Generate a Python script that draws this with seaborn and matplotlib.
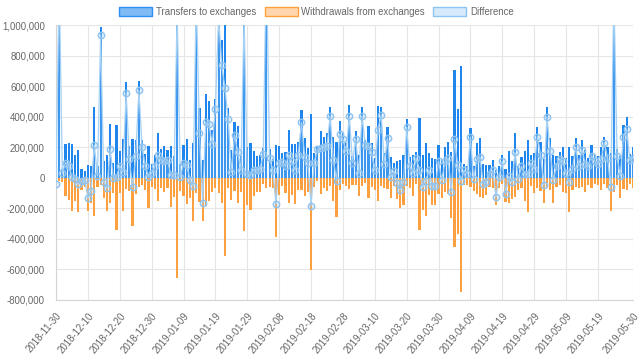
import numpy as np
import pandas as pd
import seaborn as sns
import matplotlib.pyplot as plt
from matplotlib.patches import Patch
from matplotlib.ticker import FuncFormatter, MultipleLocator

# daily values in thousands, 2018-11-30 .. 2019-05-30
transfers = [
    122, 1300, 60, 222, 226, 222, 150, 183, 57, 46,
    83, 80, 462, 75, 985, 110, 150, 352, 100, 346,
    178, 255, 630, 205, 252, 248, 635, 250, 157, 205,
    90, 150, 296, 187, 205, 183, 205, 145, 1750, 90,
    215, 255, 118, 226, 1300, 455, 118, 550, 500, 313,
    515, 1150, 900, 1100, 455, 183, 368, 340, 140, 1400,
    200, 226, 176, 144, 147, 194, 1500, 187, 122, 215,
    209, 160, 172, 313, 222, 222, 231, 444, 259, 194,
    418, 161, 205, 303, 270, 292, 462, 270, 237, 370,
    292, 230, 477, 144, 303, 150, 462, 248, 340, 226,
    128, 470, 466, 161, 335, 139, 100, 107, 118, 150,
    383, 139, 150, 166, 394, 150, 230, 161, 128, 122,
    215, 118, 200, 237, 172, 706, 449, 732, 92, 74,
    325, 78, 226, 259, 92, 85, 85, 118, 52, 74,
    150, 57, 176, 107, 292, 74, 139, 176, 248, 150,
    160, 335, 237, 120, 466, 258, 150, 140, 170, 200,
    130, 200, 140, 260, 150, 245, 180, 130, 215, 150,
    140, 200, 270, 200, 160, 1300, 190, 140, 345, 400,
    155, 200,
]
withdrawals = [
    -160, -20, -30, -122, -146, -220, -155, -226, -80, -60,
    -215, -165, -248, -62, -50, -135, -220, -165, -102, -340,
    -100, -215, -72, -85, -315, -105, -62, -50, -77, -200,
    -60, -75, -150, -70, -92, -65, -190, -125, -655, -85,
    -120, -170, -130, -280, -100, -160, -280, -185, -150, -90,
    -65, -100, -165, -515, -70, -148, -87, -168, -92, -350,
    -175, -210, -122, -95, -90, -40, -70, -60, -70, -388,
    -110, -55, -98, -163, -115, -170, -80, -82, -120, -94,
    -601, -61, -18, -109, -70, -87, -57, -152, -255, -83,
    -39, -57, -72, -44, -48, -120, -57, -32, -131, -60,
    -80, -155, -54, -69, -76, -135, -54, -142, -196, -178,
    -52, -65, -120, -38, -342, -213, -250, -110, -180, -176,
    -108, -135, -93, -109, -264, -455, -368, -750, -44, -48,
    -59, -87, -104, -124, -131, -115, -59, -70, -176, -70,
    -43, -161, -167, -137, -126, -83, -65, -150, -222, -54,
    -100, -65, -87, -166, -66, -80, -166, -60, -45, -90,
    -100, -227, -80, -60, -70, -60, -90, -50, -70, -40,
    -50, -80, -40, -70, -220, -90, -50, -130, -75, -80,
    -40, -70,
]
tick_days = [0, 10, 20, 30, 40, 50, 60, 70, 80, 90, 100, 110, 120,
             130, 140, 150, 160, 170, 181]
tick_labels = ['2018-11-30', '2018-12-10', '2018-12-20', '2018-12-30',
               '2019-01-09', '2019-01-19', '2019-01-29', '2019-02-08',
               '2019-02-18', '2019-02-28', '2019-03-10', '2019-03-20',
               '2019-03-30', '2019-04-09', '2019-04-19', '2019-04-29',
               '2019-05-09', '2019-05-19', '2019-05-30']

df = pd.DataFrame({'day': np.arange(len(transfers)),
                   'transfers': np.array(transfers) * 1000,
                   'withdrawals': np.array(withdrawals) * 1000})
df['difference'] = df.transfers + df.withdrawals

sns.set_theme(style='white')
plt.rcParams['font.family'] = ['Liberation Sans', 'DejaVu Sans']

fig = plt.figure(figsize=(6.4, 3.61), dpi=100)
ax = fig.add_axes([0.0875, 0.169, 0.9016, 0.7617])

blue = '#1f86ee'
orange = '#ffa040'

sns.barplot(data=df, x='day', y='transfers', native_scale=True, color=blue,
            saturation=1, width=0.68, errorbar=None, linewidth=0, ax=ax)
sns.barplot(data=df, x='day', y='withdrawals', native_scale=True, color=orange,
            saturation=1, width=0.68, errorbar=None, linewidth=0, ax=ax)

ax.fill_between(df.day, df.difference, 0, color='#bcdcf8', alpha=0.2,
                linewidth=0, zorder=3)
sns.lineplot(data=df, x='day', y='difference', ax=ax, color='#a6d1f4',
             linewidth=0.9, marker='o', markersize=4.6,
             markerfacecolor=(0.62, 0.80, 0.95, 0.3),
             markeredgecolor='#8fc3f0', markeredgewidth=1, zorder=4)

ax.set_xlim(0, 181)
ax.set_ylim(-800000, 1000000)
ax.yaxis.set_major_locator(MultipleLocator(200000))
ax.yaxis.set_major_formatter(FuncFormatter(lambda v, p: f'{int(v):,}'))
ax.set_xticks(tick_days)
ax.set_xticklabels(tick_labels)
plt.setp(ax.get_xticklabels(), rotation=50, ha='right', rotation_mode='anchor')
ax.tick_params(axis='both', labelsize=6.9, labelcolor='#666666', length=5,
               color='#e3e3e3', width=0.8, pad=3)
ax.grid(True, color='#e6e6e6', linewidth=0.8)
ax.set_axisbelow(True)
for s in ['top', 'right']:
    ax.spines[s].set_visible(False)
for s in ['left', 'bottom']:
    ax.spines[s].set_color('#d5d5d5')
    ax.spines[s].set_linewidth(0.8)
ax.set_xlabel('')
ax.set_ylabel('')

handles = [Patch(facecolor='#80bbf5', edgecolor='#2d8ff0', lw=1, label='Transfers to exchanges'),
           Patch(facecolor='#ffd6ad', edgecolor='#ffa040', lw=1, label='Withdrawals from exchanges'),
           Patch(facecolor='#d6eafb', edgecolor='#8ec4f2', lw=1, label='Difference')]
fig.legend(handles=handles, loc='center', bbox_to_anchor=(0.4945, 1 - 12 / 361),
           ncol=3, frameon=False, fontsize=6.9, handlelength=3.45,
           handleheight=1.05, handletextpad=0.4, columnspacing=0.85,
           labelcolor='#666666', borderaxespad=0)

fig.savefig('out.png', dpi=100)
